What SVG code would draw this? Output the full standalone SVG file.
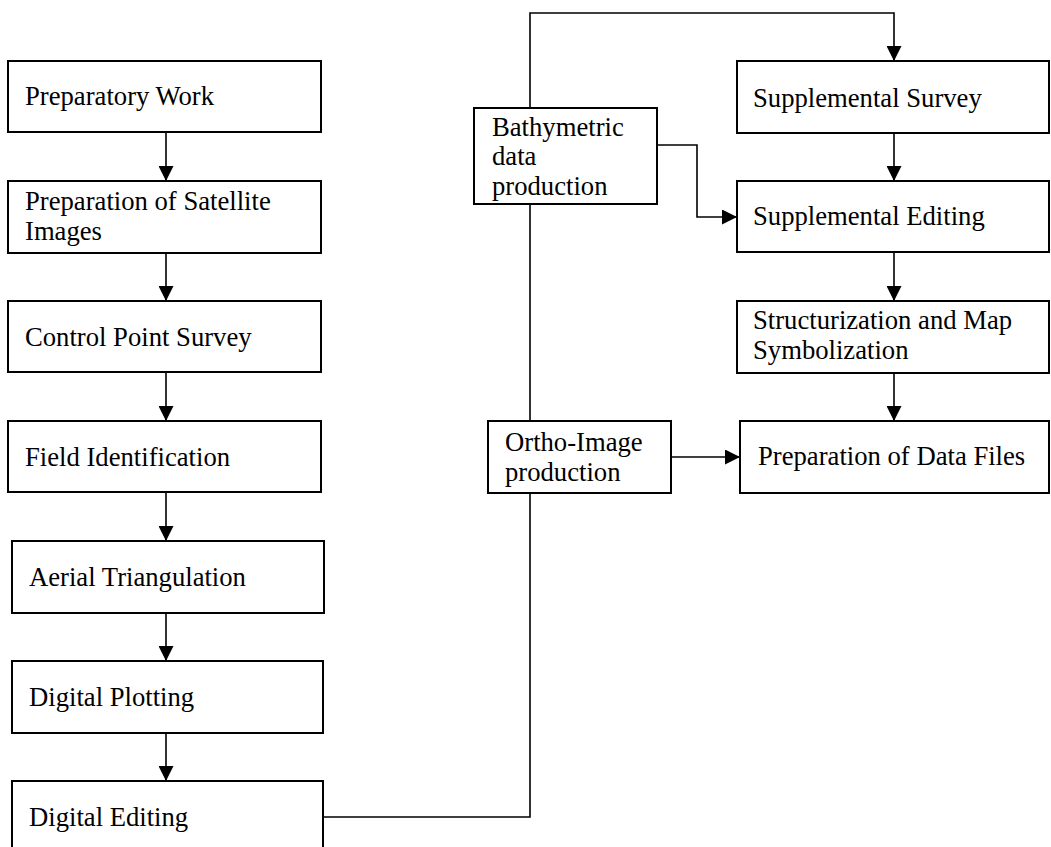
<svg xmlns="http://www.w3.org/2000/svg" width="1051" height="847" viewBox="0 0 1051 847">
  <style>
    .box { fill: #ffffff; stroke: #000000; stroke-width: 2; }
    .lbl { font-family: "Liberation Serif", "Times New Roman", serif; font-size: 26.67px; fill: #000000; }
    .wire { fill: none; stroke: #000000; stroke-width: 1.6; }
  </style>
  <defs>
    <marker id="arrow" markerUnits="userSpaceOnUse" markerWidth="15" markerHeight="15" refX="15" refY="7.5" orient="auto">
      <path d="M0,0 L15,7.5 L0,15 Z" fill="#000000"/>
    </marker>
  </defs>

  <!-- connectors -->
  <g id="connectors">
    <line class="wire" x1="166" y1="132" x2="166" y2="181" marker-end="url(#arrow)"/>
    <line class="wire" x1="166" y1="253" x2="166" y2="301" marker-end="url(#arrow)"/>
    <line class="wire" x1="166" y1="372" x2="166" y2="421" marker-end="url(#arrow)"/>
    <line class="wire" x1="166" y1="492" x2="166" y2="541" marker-end="url(#arrow)"/>
    <line class="wire" x1="166" y1="613" x2="166" y2="661" marker-end="url(#arrow)"/>
    <line class="wire" x1="166" y1="733" x2="166" y2="781" marker-end="url(#arrow)"/>
    <!-- Digital Editing up the trunk to Supplemental Survey -->
    <path class="wire" d="M323,817 H530 V13 H894 V61" marker-end="url(#arrow)"/>
    <!-- Bathymetric data to Supplemental Editing -->
    <path class="wire" d="M657,145 H697 V217 H737" marker-end="url(#arrow)"/>
    <!-- Ortho-Image to Data Files -->
    <line class="wire" x1="671" y1="457" x2="740" y2="457" marker-end="url(#arrow)"/>
    <!-- right column chain -->
    <line class="wire" x1="894" y1="133" x2="894" y2="181" marker-end="url(#arrow)"/>
    <line class="wire" x1="894" y1="252" x2="894" y2="301" marker-end="url(#arrow)"/>
    <line class="wire" x1="894" y1="373" x2="894" y2="421" marker-end="url(#arrow)"/>
  </g>

  <!-- left column -->
  <g id="preparatory-work">
    <rect class="box" x="8" y="61" width="313" height="71"/>
    <text class="lbl" x="25" y="105">Preparatory Work</text>
  </g>
  <g id="satellite-images">
    <rect class="box" x="8" y="181" width="313" height="72"/>
    <text class="lbl" x="25" y="210">Preparation of Satellite</text>
    <text class="lbl" x="25" y="239.5">Images</text>
  </g>
  <g id="control-point-survey">
    <rect class="box" x="8" y="301" width="313" height="71"/>
    <text class="lbl" x="25" y="346">Control Point Survey</text>
  </g>
  <g id="field-identification">
    <rect class="box" x="8" y="421" width="313" height="71"/>
    <text class="lbl" x="25" y="466">Field Identification</text>
  </g>
  <g id="aerial-triangulation">
    <rect class="box" x="12" y="541" width="312" height="72"/>
    <text class="lbl" x="29" y="586">Aerial Triangulation</text>
  </g>
  <g id="digital-plotting">
    <rect class="box" x="12" y="661" width="311" height="72"/>
    <text class="lbl" x="29" y="706">Digital Plotting</text>
  </g>
  <g id="digital-editing">
    <rect class="box" x="12" y="781" width="311" height="80"/>
    <text class="lbl" x="29" y="826">Digital Editing</text>
  </g>

  <!-- middle column -->
  <g id="bathymetric-data">
    <rect class="box" x="474" y="108" width="183" height="96"/>
    <text class="lbl" x="492" y="135.5">Bathymetric</text>
    <text class="lbl" x="492" y="165">data</text>
    <text class="lbl" x="492" y="194.5">production</text>
  </g>
  <g id="ortho-image">
    <rect class="box" x="488" y="421" width="183" height="72"/>
    <text class="lbl" x="505" y="451">Ortho-Image</text>
    <text class="lbl" x="505" y="480.5">production</text>
  </g>

  <!-- right column -->
  <g id="supplemental-survey">
    <rect class="box" x="737" y="61" width="312" height="72"/>
    <text class="lbl" x="753" y="107">Supplemental Survey</text>
  </g>
  <g id="supplemental-editing">
    <rect class="box" x="737" y="181" width="312" height="71"/>
    <text class="lbl" x="753" y="225">Supplemental Editing</text>
  </g>
  <g id="structurization">
    <rect class="box" x="737" y="301" width="312" height="72"/>
    <text class="lbl" x="753" y="329">Structurization and Map</text>
    <text class="lbl" x="753" y="358.5">Symbolization</text>
  </g>
  <g id="data-files">
    <rect class="box" x="740" y="421" width="309" height="72"/>
    <text class="lbl" x="758" y="465">Preparation of Data Files</text>
  </g>
</svg>
